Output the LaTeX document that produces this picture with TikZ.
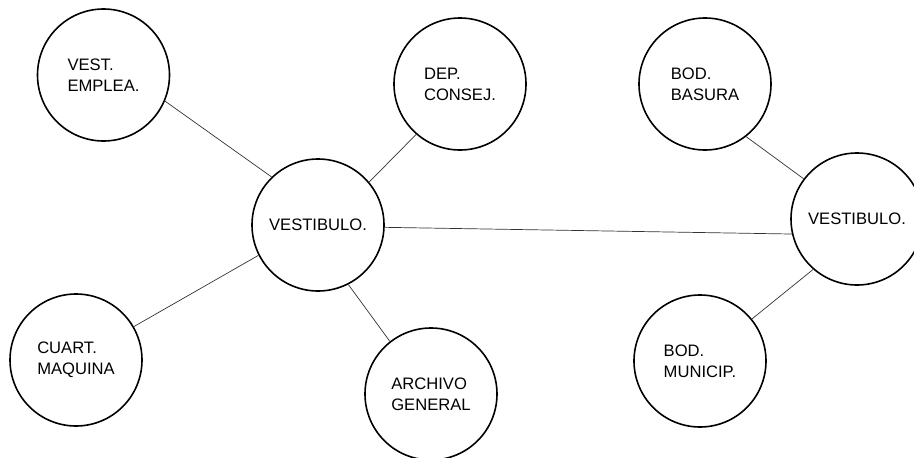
\documentclass[tikz,border=0pt]{standalone}
\usepackage{fontspec}
\setmainfont{Liberation Sans}
\begin{document}
\begin{tikzpicture}[x=1pt,y=-1pt,
  room/.style={circle, draw, line width=1.6pt, minimum size=132pt, inner sep=0pt,
    align=left, font=\fontsize{16.6}{21}\selectfont},
  link/.style={draw=black!80, line width=0.7pt}]
\useasboundingbox[fill=white] (0,0) rectangle (914,458);
\node[room] (ve) at (103.5,75) {VEST.\\EMPLEA.};
\node[room] (dc) at (460,84) {DEP.\\CONSEJ.};
\node[room] (bb) at (705,84) {BOD.\\BASURA};
\node[room] (vl) at (318,225) {VESTIBULO.};
\node[room] (vr) at (857,219) {VESTIBULO.};
\node[room] (cm) at (76,360) {CUART.\\MAQUINA};
\node[room] (ag) at (431,394) {ARCHIVO\\GENERAL};
\node[room] (bm) at (700,361) {BOD.\\MUNICIP.};
\draw[link] (ve.-23) -- (vl.134);
\draw[link] (dc.229) -- (vl.40);
\draw[link] (cm.30) -- (vl.207);
\draw[link] (ag.128) -- (vl.297);
\draw[link] (vl.-2) -- (vr.193);
\draw[link] (bb.-52) -- (vr.143);
\draw[link] (bm.39) -- (vr.229);
\end{tikzpicture}
\end{document}
